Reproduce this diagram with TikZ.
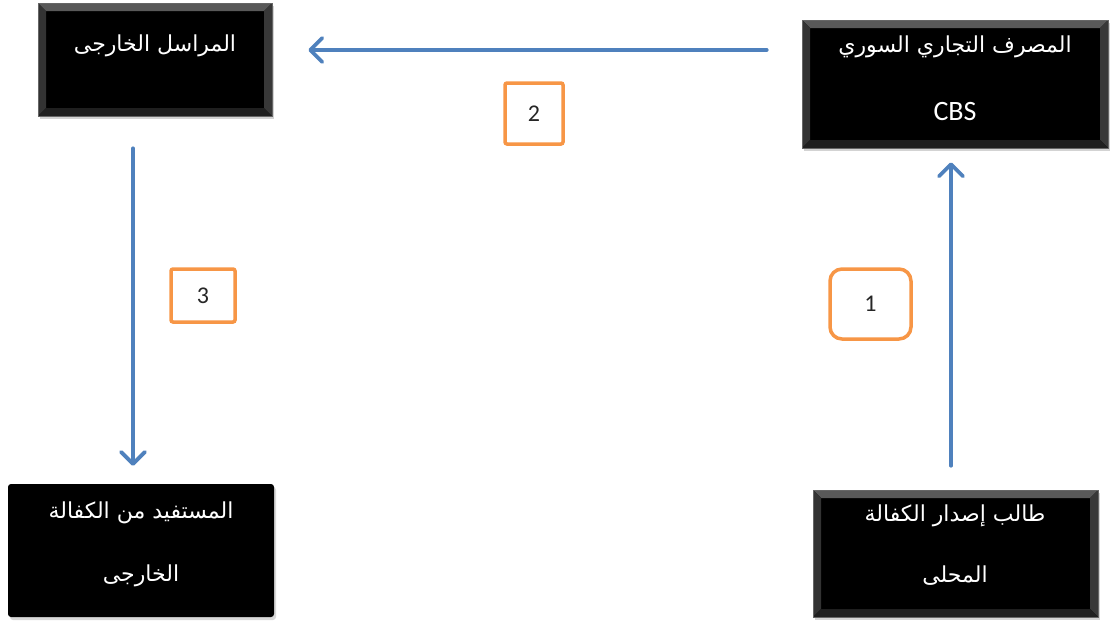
\documentclass[tikz,border=0pt]{standalone}
\usepackage{fontspec}
\usetikzlibrary{arrows.meta,shadows}
\TeXXeTstate=1
\newfontfamily\arabicfont[Script=Arabic]{DejaVu Sans}
\newfontfamily\latinfont{Carlito}
\definecolor{flowblue}{HTML}{4F81BD}
\definecolor{stepgold}{HTML}{F79646}
\begin{document}
\begin{tikzpicture}[x=1pt,y=-1pt,
  bevelbox/.style={fill=black, draw=black!60, line width=0.6pt,
    drop shadow={shadow xshift=2pt, shadow yshift=-3pt, opacity=0.35},
    path picture={
      \fill[black!65] (path picture bounding box.north west) -- (path picture bounding box.north east)
        -- ([shift={(-8pt,-8pt)}]path picture bounding box.north east) -- ([shift={(8pt,-8pt)}]path picture bounding box.north west) -- cycle;
      \fill[black!80] (path picture bounding box.north west) -- (path picture bounding box.south west)
        -- ([shift={(8pt,8pt)}]path picture bounding box.south west) -- ([shift={(8pt,-8pt)}]path picture bounding box.north west) -- cycle;
      \fill[black!78] (path picture bounding box.north east) -- (path picture bounding box.south east)
        -- ([shift={(-8pt,8pt)}]path picture bounding box.south east) -- ([shift={(-8pt,-8pt)}]path picture bounding box.north east) -- cycle;
      \fill[black!88] (path picture bounding box.south west) -- (path picture bounding box.south east)
        -- ([shift={(-8pt,8pt)}]path picture bounding box.south east) -- ([shift={(8pt,8pt)}]path picture bounding box.south west) -- cycle;
    }},
  flatbox/.style={fill=black, rounded corners=3pt,
    drop shadow={shadow xshift=2pt, shadow yshift=-3pt, opacity=0.3}},
  boxtext/.style={text=white, font=\arabicfont\fontsize{22}{26}\selectfont, inner sep=0pt},
  steptag/.style={draw=stepgold, line width=3.5pt, fill=white, rounded corners=3pt,
    font=\latinfont\fontsize{24}{28}\selectfont, text=black!85},
  flow/.style={draw=flowblue, line width=3.8pt, line cap=round,
    -{Straight Barb[length=12pt,width=24pt,line width=3.8pt,round]}}
]
\useasboundingbox (0,0) rectangle (1110,622);

% boxes
\node[bevelbox, minimum width=234pt, minimum height=113pt] (corr) at (155,59.5) {};
\node[bevelbox, minimum width=306pt, minimum height=128pt] (cbs) at (955,84) {};
\node[flatbox, minimum width=266pt, minimum height=133pt] (benef) at (141,550.5) {};
\node[bevelbox, minimum width=285pt, minimum height=127pt] (appl) at (955.5,553.5) {};

% box texts
\node[boxtext] (corrT) at (155,46) {\beginR المراسل الخارجى\endR};
\node[boxtext] (cbsT1) at (955,47) {\beginR المصرف التجاري السوري\endR};
\node[boxtext, font=\latinfont\fontsize{28}{32}\selectfont] (cbsT2) at (955,112) {CBS};
\node[boxtext] (benefT1) at (141,513) {\beginR المستفيد من الكفالة\endR};
\node[boxtext] (benefT2) at (141,576) {\beginR الخارجى\endR};
\node[boxtext] (applT1) at (955,516) {\beginR طالب إصدار الكفالة\endR};
\node[boxtext] (applT2) at (955,576) {\beginR المحلى\endR};

% step numbers
\node[steptag, rounded corners=2pt, minimum width=58pt, minimum height=61pt] (s2) at (534,113.5) {2};
\node[steptag, rounded corners=2pt, minimum width=64pt, minimum height=53pt] (s3) at (203,295.5) {3};
\node[steptag, rounded corners=12pt, minimum width=81pt, minimum height=70pt] (s1) at (870.5,304) {1};

% flow arrows
\draw[flow, shorten <=24pt, shorten >=14pt] ([xshift=-4.5pt]appl.north) -- ([xshift=-4pt]cbs.south);
\draw[flow, shorten <=35pt, shorten >=36pt] ([yshift=34pt]cbs.west) -- ([yshift=9.5pt]corr.east);
\draw[flow, shorten <=32pt, shorten >=18pt] ([xshift=-22pt]corr.south) -- ([xshift=-8pt]benef.north);
\end{tikzpicture}
\end{document}
